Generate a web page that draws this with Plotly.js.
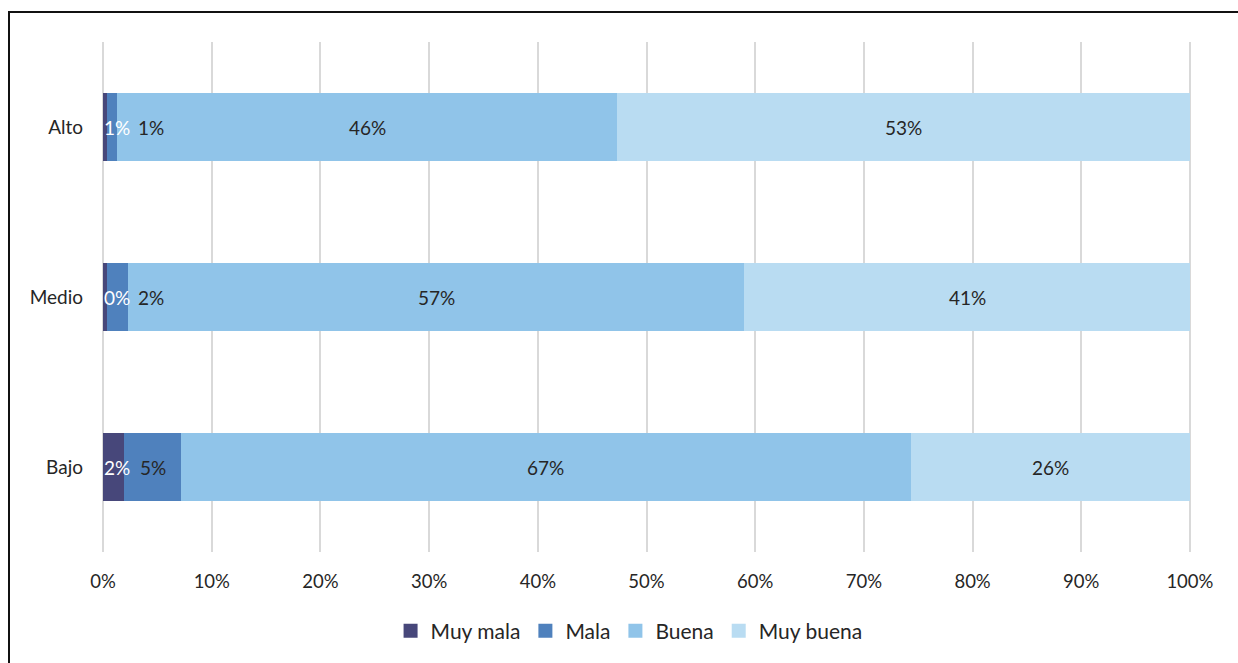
<!DOCTYPE html>
<html>
<head>
<meta charset="utf-8">
<script src="https://cdn.plot.ly/plotly-3.0.1.min.js"></script>
<style>
html,body{margin:0;padding:0;background:#fff;overflow:hidden;}
#frame{position:absolute;left:8px;top:11px;width:1300px;height:700px;border-left:2px solid #111;border-top:2px solid #111;pointer-events:none;z-index:10;}
#chart{position:absolute;left:0;top:0;width:1238px;height:663px;}
</style>
</head>
<body>
<div id="chart"></div>
<div id="frame"></div>
<script>
// Data (percent), categories bottom-to-top
const categories = ["Bajo", "Medio", "Alto"];
const seriesNames = ["Muy mala", "Mala", "Buena", "Muy buena"];
const muyMala  = [1.9, 0.4, 0.4];
const mala     = [5.3, 1.9, 0.9];
const buena    = [67.1, 56.7, 46.0];
const muyBuena = [25.7, 41.0, 52.7];
const labelsMuyMala  = ["2%", "0%", "1%"];
const labelsMala     = ["5%", "2%", "1%"];
const labelsBuena    = ["67%", "57%", "46%"];
const labelsMuyBuena = ["26%", "41%", "53%"];
const xTickVals = [0,10,20,30,40,50,60,70,80,90,100];
const xTickText = ["0%","10%","20%","30%","40%","50%","60%","70%","80%","90%","100%"];

const colors = ["#47477a", "#4f81bd", "#90c4e9", "#b9dcf2"];
const labelColors = ["#ffffff", "#262626", "#262626", "#262626"];
const series = [muyMala, mala, buena, muyBuena];
const labels = [labelsMuyMala, labelsMala, labelsBuena, labelsMuyBuena];

const FONT = "Lato, 'Open Sans', sans-serif";

const traces = series.map((vals, i) => ({
  type: "bar",
  orientation: "h",
  name: seriesNames[i],
  y: categories,
  x: vals,
  marker: {color: colors[i], line: {width: 0}},
  textposition: "none",
  showlegend: false,
  hoverinfo: "x+y+name"
}));
// legend-only entries with square swatches
seriesNames.forEach((n, i) => {
  traces.push({
    type: "scatter", mode: "markers", name: n,
    x: [null], y: [null],
    marker: {symbol: "square", size: 14, color: colors[i]},
    showlegend: true, hoverinfo: "skip"
  });
});

const X_RANGE = [-0.1, 100.1];

// Label annotations positioned from data (segment centres), nudged apart when crowded
const plotWidthPx = 1238 - 102 - 47;
const pxPerUnit = plotWidthPx / (X_RANGE[1] - X_RANGE[0]);
const annotations = [];
categories.forEach((cat, c) => {
  let cum = 0;
  let prevPx = null;
  series.forEach((vals, i) => {
    const v = vals[c];
    const center = cum + v / 2;
    const centerPx = center * pxPerUnit;
    let targetPx = centerPx;
    if (i === 0) targetPx = Math.max(centerPx, 14);
    else if (prevPx !== null) targetPx = Math.max(centerPx, prevPx + 34);
    annotations.push({
      x: center, y: cat, xref: "x", yref: "y",
      text: labels[i][c], showarrow: false,
      xshift: targetPx - centerPx,
      font: {family: FONT, size: 19, color: labelColors[i]}
    });
    prevPx = targetPx;
    cum += v;
  });
});

const layout = {
  width: 1238, height: 663,
  margin: {l: 102, r: 47, t: 42, b: 111},
  barmode: "stack",
  bargap: 0.6,
  paper_bgcolor: "#ffffff",
  plot_bgcolor: "#ffffff",
  font: {family: FONT, size: 18, color: "#262626"},
  showlegend: true,
  legend: {
    orientation: "h", x: 0.484, xanchor: "center",
    y: -0.155, yanchor: "middle",
    font: {family: FONT, size: 21, color: "#262626"},
    traceorder: "normal", itemwidth: 30, itemsizing: "trace"
  },
  xaxis: {
    range: X_RANGE,
    tickvals: xTickVals, ticktext: xTickText,
    showgrid: true, gridcolor: "#d9d9d9", gridwidth: 2,
    zeroline: true, zerolinecolor: "#d9d9d9", zerolinewidth: 2,
    showline: false, ticks: "",
    ticklabelstandoff: 16,
    tickfont: {family: FONT, size: 18.5, color: "#262626"},
    fixedrange: true
  },
  yaxis: {
    type: "category",
    categoryorder: "array", categoryarray: categories,
    showgrid: false, zeroline: false, showline: false, ticks: "",
    ticklabelstandoff: 18,
    tickfont: {family: FONT, size: 19, color: "#262626"},
    fixedrange: true
  },
  annotations: annotations
};

Plotly.newPlot("chart", traces, layout, {displayModeBar: false, staticPlot: true});
</script>
</body>
</html>
